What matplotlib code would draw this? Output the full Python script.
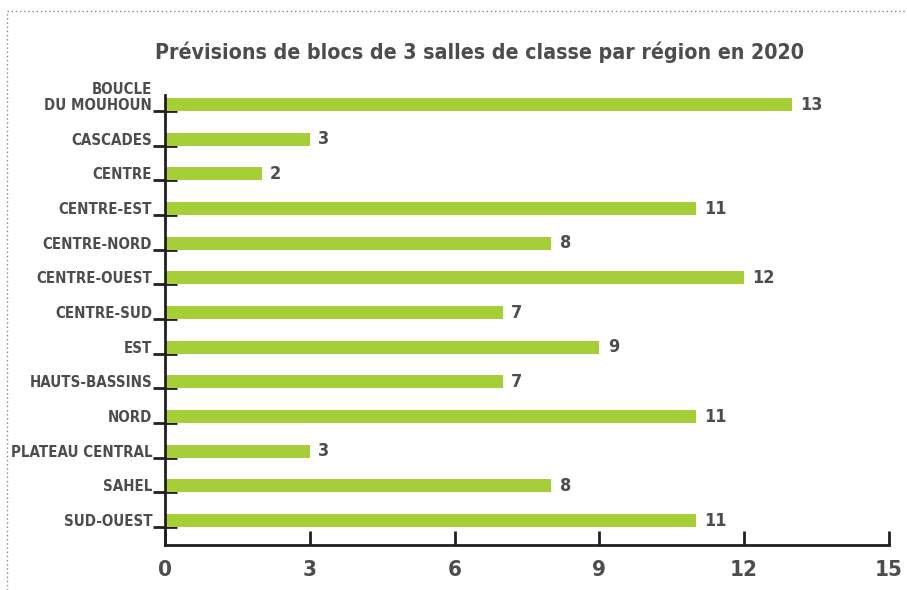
"""Bar chart: planned 3-classroom blocks per region in 2020."""

import matplotlib.pyplot as plt
from matplotlib.lines import Line2D
from matplotlib import transforms
import numpy as np

REGIONS = [
    "BOUCLE\nDU MOUHOUN", "CASCADES", "CENTRE", "CENTRE-EST", "CENTRE-NORD",
    "CENTRE-OUEST", "CENTRE-SUD", "EST", "HAUTS-BASSINS", "NORD",
    "PLATEAU CENTRAL", "SAHEL", "SUD-OUEST",
]
BLOCKS = [13, 3, 2, 11, 8, 12, 7, 9, 7, 11, 3, 8, 11]
X_TICKS = [0, 3, 6, 9, 12, 15]

BAR_COLOR = "#a6ce39"
TEXT_COLOR = "#4d4d4f"
AXIS_COLOR = "#231f20"

plt.rcParams["font.family"] = ["DejaVu Sans"]
plt.rcParams["font.stretch"] = "condensed"

fig = plt.figure(figsize=(9.07, 5.9), dpi=100)
ax = fig.add_axes([0.1823, 0.0763, 0.7976, 0.7627])

positions = np.arange(len(REGIONS))
bar_height = 0.37
ax.barh(positions - bar_height / 2, BLOCKS, height=bar_height,
        color=BAR_COLOR, zorder=2)
for pos, value in zip(positions, BLOCKS):
    ax.annotate(str(value), (value, pos - bar_height / 2),
                xytext=(6, 0), textcoords="offset points",
                ha="left", va="center", fontsize=13, fontweight="bold",
                color=TEXT_COLOR)

# category labels sit on the bars, tick marks at the bar bottoms
label_shift = transforms.ScaledTranslation(-0.13, -0.02, fig.dpi_scale_trans)
for pos, region in zip(positions, REGIONS):
    ax.text(0, pos, region, transform=ax.get_yaxis_transform() + label_shift,
            ha="right", va="bottom", ma="right", fontsize=10.8,
            fontweight="bold", color=TEXT_COLOR, linespacing=1.05)

ax.set_xlim(0, 15)
ax.set_ylim(len(REGIONS) - 0.48, -0.46)
ax.set_xticks(X_TICKS)
ax.set_xticklabels([str(t) for t in X_TICKS], fontsize=16,
                   fontweight="bold", color=TEXT_COLOR)
ax.set_yticks(positions)
ax.set_yticklabels([])
ax.tick_params(axis="x", direction="in", length=10, width=2,
               color=AXIS_COLOR, pad=11)
ax.tick_params(axis="y", direction="inout", length=17, width=2,
               color=AXIS_COLOR)

for side in ("top", "right"):
    ax.spines[side].set_visible(False)
for side in ("left", "bottom"):
    ax.spines[side].set_color(AXIS_COLOR)
    ax.spines[side].set_linewidth(2)

fig.text(0.529, 0.912, "Prévisions de blocs de 3 salles de classe par région en 2020",
         ha="center", va="center", fontsize=15.3, fontweight="bold",
         color=TEXT_COLOR)

# dotted frame around the graphic
fig.add_artist(Line2D([7 / 907, 1.0], [1 - 11 / 590, 1 - 11 / 590],
                      transform=fig.transFigure, color="#888888",
                      linestyle=(0, (1, 2)), linewidth=1))
fig.add_artist(Line2D([7 / 907, 7 / 907], [0.0, 1 - 11 / 590],
                      transform=fig.transFigure, color="#888888",
                      linestyle=(0, (1, 2)), linewidth=1))

fig.savefig("out.png", dpi=100)
